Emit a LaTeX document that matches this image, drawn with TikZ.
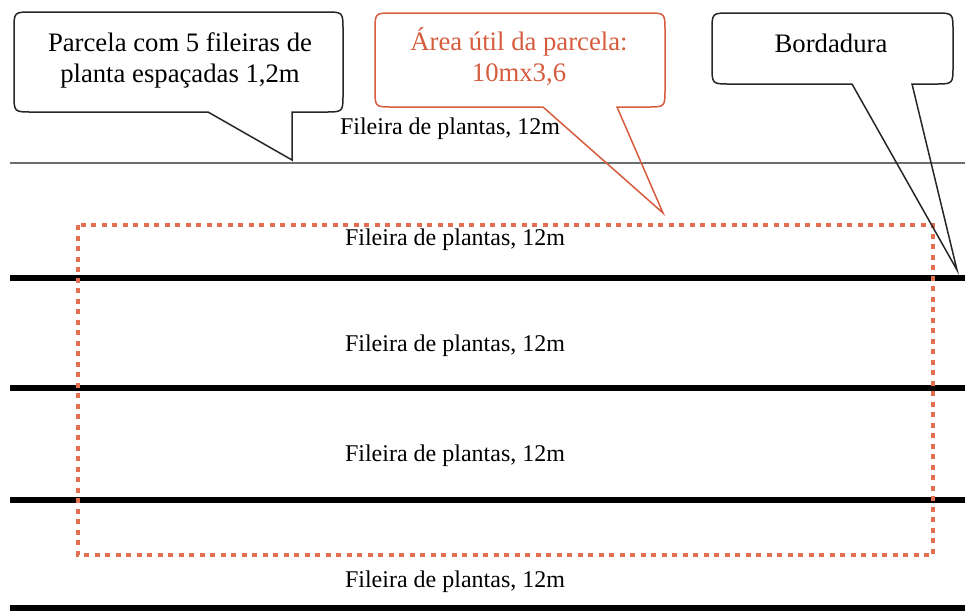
\documentclass[tikz,border=0pt]{standalone}
\usepackage{fontspec}
\setmainfont{Liberation Serif}
\definecolor{calloutorange}{RGB}{214,92,62}
\definecolor{dotorange}{RGB}{226,112,80}
\definecolor{thingray}{RGB}{105,110,110}
\begin{document}
\begin{tikzpicture}[x=1pt,y=-1pt,
  rowlabel/.style={inner sep=0pt,font=\fontsize{24}{28}\selectfont},
  calltext/.style={inner sep=0pt,align=center,font=\fontsize{26.7}{31}\selectfont},
  thickrow/.style={line width=6pt,black},
  thinrow/.style={line width=1.2pt,thingray},
  usefularea/.style={line width=4.5pt,dotorange,dash pattern=on 5pt off 5.5pt},
  blackcallout/.style={line width=1.5pt,black!85,line join=miter},
  orangecallout/.style={line width=1.5pt,calloutorange,line join=miter}]
\useasboundingbox (0,0) rectangle (965,611);
% row lines
\coordinate (t0) at (10,163); \coordinate (t1) at (965,163);
\coordinate (a0) at (10,278); \coordinate (a1) at (965,278);
\coordinate (b0) at (10,388); \coordinate (b1) at (965,388);
\coordinate (c0) at (10,500); \coordinate (c1) at (965,500);
\coordinate (d0) at (10,608); \coordinate (d1) at (965,608);
\draw[thinrow] (t0) -- (t1);
\draw[thickrow] (a0) -- (a1);
\draw[thickrow] (b0) -- (b1);
\draw[thickrow] (c0) -- (c1);
\draw[thickrow] (d0) -- (d1);
% useful area
\draw[usefularea] (78,225) rectangle (933,555);
% callout 1
\coordinate (tip1) at (292,160);
\draw[blackcallout] (32,12) -- (325,12) .. controls (343,12) .. (343,30) -- (343,94) .. controls (343,112) .. (325,112) -- (292,112) -- (tip1) -- (208,112) -- (32,112) .. controls (14,112) .. (14,94) -- (14,30) .. controls (14,12) .. (32,12) -- cycle;
\node[calltext] (c1text) at (180,60) {Parcela com 5 fileiras de\\planta espaçadas 1,2m};
% callout 2
\coordinate (tip2) at (663,213);
\draw[orangecallout] (393,13) -- (647,13) .. controls (665,13) .. (665,31) -- (665,89) .. controls (665,107) .. (647,107) -- (617,107) -- (tip2) -- (543,107) -- (393,107) .. controls (375,107) .. (375,89) -- (375,31) .. controls (375,13) .. (393,13) -- cycle;
\node[calltext,text=calloutorange] (c2text) at (519,57) {Área útil da parcela:\\10mx3,6};
% callout 3
\coordinate (tip3) at (957,270);
\draw[blackcallout] (730,13) -- (935,13) .. controls (953,13) .. (953,31) -- (953,66) .. controls (953,84) .. (935,84) -- (912,84) -- (tip3) -- (852,84) -- (730,84) .. controls (712,84) .. (712,66) -- (712,31) .. controls (712,13) .. (730,13) -- cycle;
\node[calltext] (c3text) at (831,43) {Bordadura};
% row labels
\node[rowlabel] (r1) at (450,129) {Fileira de plantas, 12m};
\node[rowlabel] (r2) at (455,240) {Fileira de plantas, 12m};
\node[rowlabel] (r3) at (455,346) {Fileira de plantas, 12m};
\node[rowlabel] (r4) at (455,456) {Fileira de plantas, 12m};
\node[rowlabel] (r5) at (455,582) {Fileira de plantas, 12m};
\end{tikzpicture}
\end{document}
